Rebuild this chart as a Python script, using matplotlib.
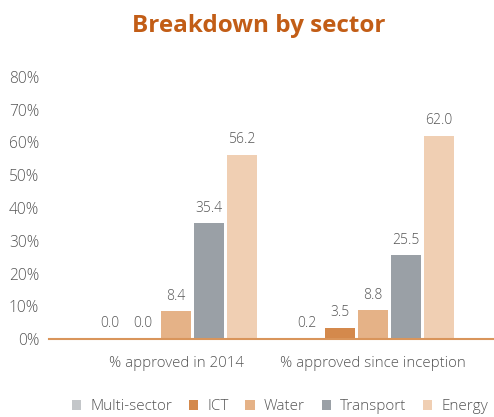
import matplotlib
matplotlib.use("Agg")
import matplotlib.pyplot as plt
from matplotlib.patches import Patch
import matplotlib.transforms as mtransforms
import numpy as np

plt.rcParams['font.family'] = ['Open Sans', 'DejaVu Sans']

categories = ["% approved in 2014", "% approved since inception"]
sectors = ["Multi-sector", "ICT", "Water", "Transport", "Energy"]
values = {
    "Multi-sector": [0.0, 0.2],
    "ICT": [0.0, 3.5],
    "Water": [8.4, 8.8],
    "Transport": [35.4, 25.5],
    "Energy": [56.2, 62.0],
}
colors = {
    "Multi-sector": "#c3c6c9",
    "ICT": "#d4894c",
    "Water": "#e5b287",
    "Transport": "#9aa0a6",
    "Energy": "#f0cfb3",
}
yticks = [0, 10, 20, 30, 40, 50, 60, 70, 80]

W, H = 494, 417
fig = plt.figure(figsize=(W/100, H/100), dpi=100)
ax = fig.add_axes([49/W, 1-339/H, 1-49/W, (339-77)/H])

text_color = "#555555"
x = np.arange(len(categories))
step = 33/197
width = 30/197
for i, s in enumerate(sectors):
    pos = x + (i-2)*step
    ax.bar(pos, values[s], width=width, color=colors[s], zorder=2)
    for p, v in zip(pos, values[s]):
        ax.text(p, v + 2.3, f"{v:.1f}", ha='center', va='bottom', fontsize=10,
                color=text_color, fontweight='light')

ax.set_xlim(-0.645, 1.614)
ax.set_ylim(0, 80)
ax.set_yticks(yticks)
ax.set_yticklabels([f"{t}%" for t in yticks], fontsize=11.2, color=text_color, fontweight='light')
off = mtransforms.ScaledTranslation(0, -3/100, fig.dpi_scale_trans)
for lbl in ax.get_yticklabels():
    lbl.set_transform(lbl.get_transform() + off)
ax.tick_params(axis='y', length=0, pad=7)
ax.tick_params(axis='x', length=0, pad=12)
ax.set_xticks(x)
ax.set_xticklabels(categories, fontsize=10.8, color=text_color, fontweight='light')
for sp in ['top', 'right', 'left']:
    ax.spines[sp].set_visible(False)
ax.spines['bottom'].set_color("#d9955b")
ax.spines['bottom'].set_linewidth(1.5)
ax.spines['bottom'].set_zorder(3)

fig.text(259/W, 1-26/H, "Breakdown by sector", ha='center', va='center',
         fontsize=17.5, fontweight='bold', color="#c25d16")

handles = [Patch(facecolor=colors[s], edgecolor='none', label=s) for s in sectors]
leg = fig.legend(handles=handles, loc='center', bbox_to_anchor=(280/W, 1-407/H), ncol=5,
                 frameon=False, handlelength=0.6, handleheight=0.6,
                 handletextpad=0.6, columnspacing=1.1, borderaxespad=0,
                 prop={'size': 11, 'weight': 'light'})
for t in leg.get_texts():
    t.set_color(text_color)

fig.savefig("out.png", dpi=100)
